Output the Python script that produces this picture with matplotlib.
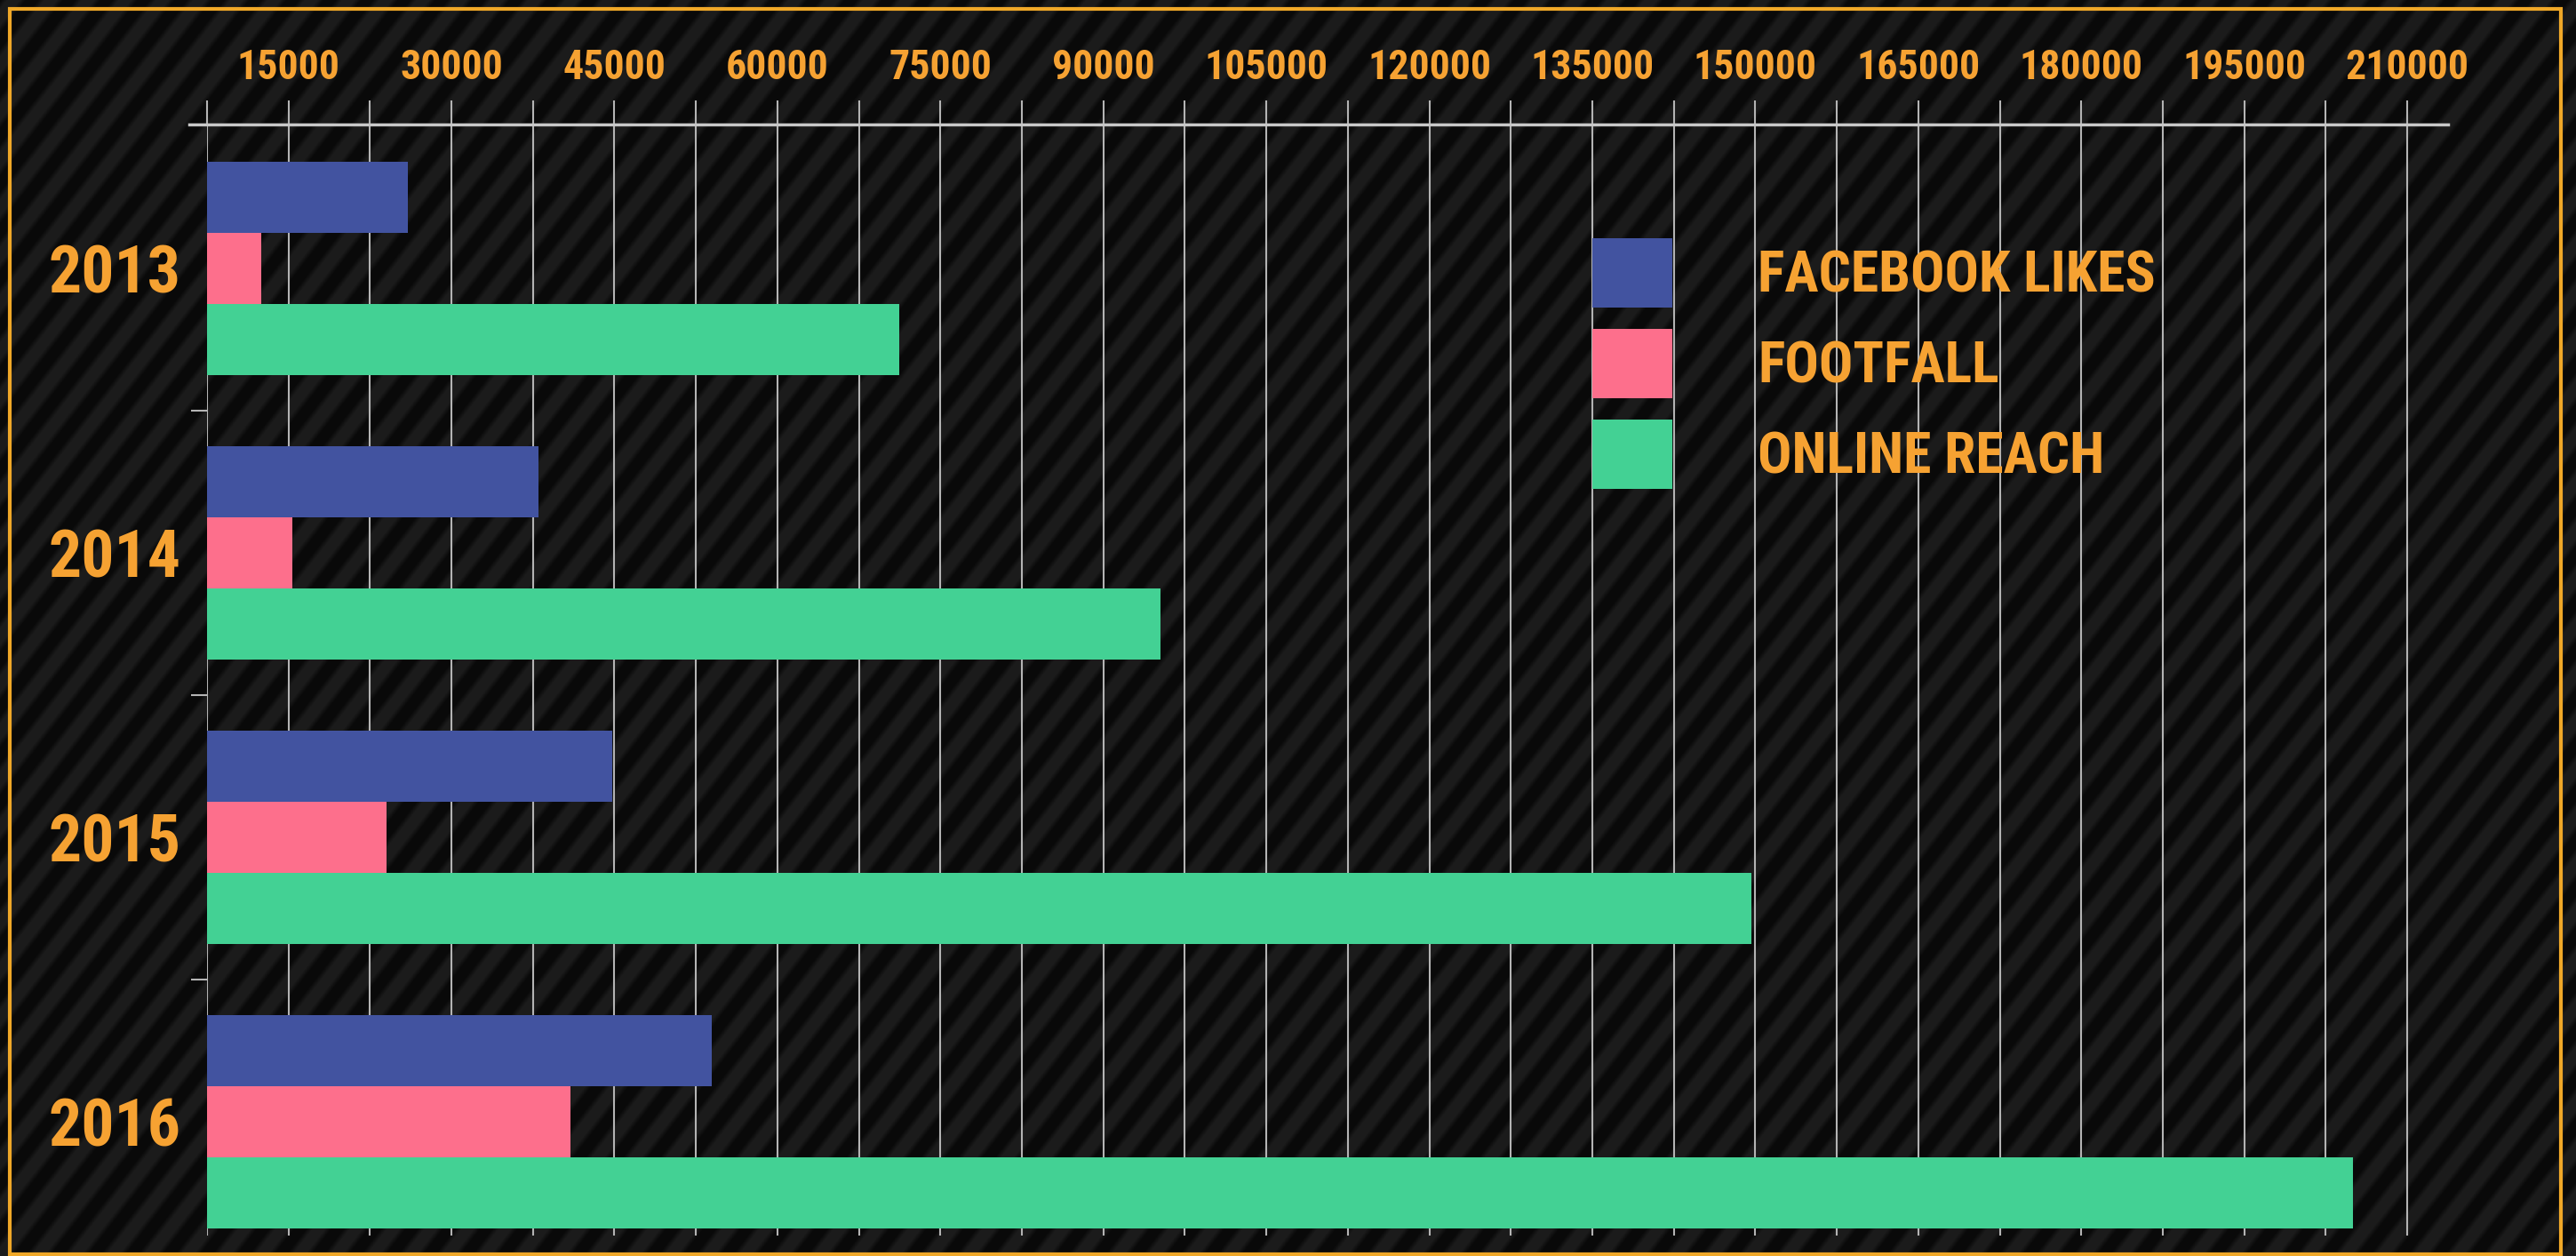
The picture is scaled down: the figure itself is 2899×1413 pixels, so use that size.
import numpy as np
import matplotlib.pyplot as plt
from matplotlib.patches import Rectangle
from matplotlib.lines import Line2D

years = ['2013', '2014', '2015', '2016']
facebook_likes = [26000, 38000, 44800, 54000]
footfall = [12500, 15400, 24000, 41000]
online_reach = [71200, 95300, 149600, 205000]
series_names = ['FACEBOOK LIKES', 'FOOTFALL', 'ONLINE REACH']
series_colors = ['#4253a0', '#fd6f8c', '#43d194']
x_ticks = list(range(7500, 210001, 7500))
x_labels = [str(t) if t % 15000 == 0 else '' for t in x_ticks]

W, H, DPI = 2899, 1413, 100
ORANGE = '#f6a232'
GRID = '#b4b4b4'
FONT = ['Roboto Condensed', 'DejaVu Sans']
STRETCH = 'condensed'

fig = plt.figure(figsize=(W / DPI, H / DPI), dpi=DPI)

# striped backdrop
bg = fig.add_axes([0, 0, 1, 1])
bg.set_axis_off()
yy, xx = np.mgrid[0:H, 0:W]
ang = np.deg2rad(52)
s = -xx * np.sin(ang) + yy * np.cos(ang)
band = np.clip(2.0 * np.cos(2 * np.pi * s / 33.0), -1, 1)
shade = 0.072 + 0.034 * band
bg.imshow(shade, cmap='gray', vmin=0, vmax=1, origin='lower',
          aspect='auto', interpolation='bilinear')

# orange frame
fig.patches.append(Rectangle((11 / W, 2 / H), 2871 / W, 1401 / H,
                             transform=fig.transFigure, fill=False,
                             ec='#f0a828', lw=3))

ax = fig.add_axes([232.8 / W, 1 - 1390 / H, (2755 - 232.8) / W, (1390 - 140) / H])
ax.set_facecolor('none')

y = np.arange(len(years))
h = 0.25
bars = []
for off, vals, name, col in zip([-h, 0, h], [facebook_likes, footfall, online_reach],
                                series_names, series_colors):
    bars.append(ax.barh(y + off, vals, height=h, color=col, label=name, zorder=3))

ax.set_xlim(7500, 213750)
ax.set_ylim(3.4, -0.505)

ax.set_axisbelow(True)
ax.xaxis.grid(True, color=GRID, lw=1.5)
ax.xaxis.tick_top()
ax.set_xticks(x_ticks)
ax.set_xticklabels(x_labels)
ax.tick_params(axis='x', which='major', direction='out', length=19.5, width=1.5,
               color=GRID, pad=11, labelsize=33, labelcolor=ORANGE)
for lbl in ax.get_xticklabels():
    lbl.set_fontfamily(FONT)
    lbl.set_fontstretch(STRETCH)
    lbl.set_fontweight('bold')

ax.set_yticks(y)
ax.set_yticklabels(years, fontsize=53, color=ORANGE, fontfamily=FONT,
                   fontstretch=STRETCH, fontweight='bold')
ax.tick_params(axis='y', which='major', length=0, pad=21)
ax.set_yticks(y[:-1] + 0.5, minor=True)
ax.tick_params(axis='y', which='minor', length=13, width=1.5, color=GRID)

for sp in ax.spines.values():
    sp.set_visible(False)
ax.add_line(Line2D([-20 / 2522, 1], [1, 1], transform=ax.transAxes,
                   color='#c8c8c8', lw=2.5, clip_on=False, zorder=4))

fs = 46
leg = ax.legend(bars, series_names, loc='upper left',
                bbox_to_anchor=(1792 / W, 1 - 268 / H), bbox_transform=fig.transFigure,
                frameon=False, borderpad=0, borderaxespad=0,
                handlelength=90 * 0.72 / fs, handleheight=1.50,
                handletextpad=96 * 0.72 / fs, labelspacing=0.38,
                prop=dict(family=FONT, weight='bold', size=fs, stretch=STRETCH))
for t in leg.get_texts():
    t.set_color(ORANGE)

fig.savefig('out.png', dpi=DPI)
